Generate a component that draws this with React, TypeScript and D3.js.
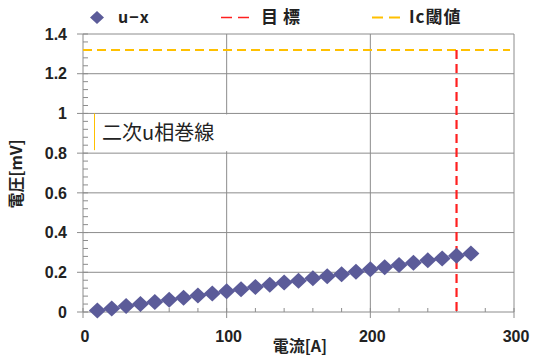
import * as d3 from "d3";

const currents = [10, 20, 30, 40, 50, 60, 70, 80, 90, 100, 110, 120, 130, 140, 150, 160, 170, 180, 190, 200, 210, 220, 230, 240, 250, 260, 270];
const voltages = [0.008, 0.018, 0.03, 0.04, 0.05, 0.062, 0.072, 0.083, 0.093, 0.105, 0.115, 0.126, 0.137, 0.148, 0.158, 0.17, 0.18, 0.19, 0.203, 0.215, 0.225, 0.237, 0.248, 0.26, 0.27, 0.283, 0.294];
const targetCurrent = 260;
const icThreshold = 1.32;
const xTicks = [0, 100, 200, 300];
const yTicks = [0, 0.2, 0.4, 0.6, 0.8, 1, 1.2, 1.4];
const legendLabels = ["u\u2212x", "目標", "Ic閾値"];
const annotation = "二次u相巻線";

const WIDTH = 534;
const HEIGHT = 358;
const MARGIN = { top: 34, right: 20, bottom: 46, left: 83 };

const FONT = "'Noto Sans CJK JP', 'Noto Sans', sans-serif";
const NUM_FONT = "'Liberation Sans', Arial, sans-serif";
const DIAMOND = "#5b5b99";
const RED = "#ff2020";
const YELLOW = "#ffc000";
const GRID = "#8c8c8c";

export default function App() {
  const x = d3.scaleLinear().domain([0, 300]).range([MARGIN.left, WIDTH - MARGIN.right]);
  const y = d3.scaleLinear().domain([0, 1.4]).range([HEIGHT - MARGIN.bottom, MARGIN.top]);

  const minorY = d3.range(0, 1.4001, 0.04);
  const minorX = d3.range(0, 300.1, 20);
  const diamond = (cx: number, cy: number, w = 8.5, h = 8) =>
    `M${cx},${cy - h}L${cx + w},${cy}L${cx},${cy + h}L${cx - w},${cy}Z`;

  const x0 = x(0);
  const x1 = x(300);
  const yb = y(0);
  const yt = y(1.4);

  return (
    <svg
      width={WIDTH}
      height={HEIGHT}
      style={{ position: "absolute", left: 0, top: 0, background: "#fff" }}
      fontFamily={FONT}
    >
      {/* grid */}
      {yTicks.map((t) => (
        <line key={"gy" + t} x1={x0} x2={x1} y1={y(t)} y2={y(t)} stroke={GRID} strokeWidth={1} />
      ))}
      {xTicks.map((t) => (
        <line key={"gx" + t} x1={x(t)} x2={x(t)} y1={yt} y2={yb} stroke={GRID} strokeWidth={1} />
      ))}

      {/* minor ticks */}
      {minorY.map((t) => (
        <line key={"my" + t} x1={x0} x2={x0 + 5} y1={y(t)} y2={y(t)} stroke={GRID} />
      ))}
      {minorX.map((t) => (
        <line key={"mx" + t} x1={x(t)} x2={x(t)} y1={yb} y2={yb - 4} stroke={GRID} />
      ))}
      {yTicks.map((t) => (
        <line key={"ty" + t} x1={x0 - 6} x2={x0} y1={y(t)} y2={y(t)} stroke={GRID} />
      ))}
      {xTicks.map((t) => (
        <line key={"tx" + t} x1={x(t)} x2={x(t)} y1={yb} y2={yb + 6} stroke={GRID} />
      ))}

      {/* annotation box */}
      <rect x={94} y={y(1) + 1} width={186} height={y(0.8) - y(1) - 3} fill="#fff" />
      <line x1={94.5} x2={94.5} y1={y(1)} y2={y(0.8) - 3} stroke={YELLOW} strokeWidth={1} />
      <text x={102} y={140} fontSize={20} fill="#222">
        {annotation}
      </text>

      {/* threshold lines */}
      <line
        x1={x0}
        x2={x1 - 4}
        y1={y(icThreshold)}
        y2={y(icThreshold)}
        stroke={YELLOW}
        strokeWidth={2}
        strokeDasharray="9,5"
      />
      <line
        x1={x(targetCurrent)}
        x2={x(targetCurrent)}
        y1={y(icThreshold)}
        y2={yb}
        stroke={RED}
        strokeWidth={2.2}
        strokeDasharray="9,5"
      />

      {/* series */}
      {currents.map((c, i) => (
        <path key={c} d={diamond(x(c), y(voltages[i]))} fill={DIAMOND} />
      ))}

      {/* tick labels */}
      {yTicks.map((t) => (
        <text
          key={"ly" + t}
          x={x0 - 16}
          y={y(t)}
          dy="0.36em"
          textAnchor="end"
          fontFamily={NUM_FONT}
          fontSize={16}
          fontWeight="bold"
          fill="#222"
        >
          {d3.format("~g")(t)}
        </text>
      ))}
      {xTicks.map((t) => (
        <text
          key={"lx" + t}
          x={x(t) + 2}
          y={yb + 24}
          dy="0.36em"
          textAnchor="middle"
          fontFamily={NUM_FONT}
          fontSize={16}
          fontWeight="bold"
          fill="#222"
        >
          {t}
        </text>
      ))}

      {/* axis titles */}
      <text x={300} y={352} textAnchor="middle" fontSize={16} fontWeight="bold" fill="#222">
        電流[A]
      </text>
      <text
        transform={`translate(22,174) rotate(-90)`}
        textAnchor="middle"
        fontSize={16}
        fontWeight="bold"
        fill="#222"
      >
        電圧[mV]
      </text>

      {/* legend */}
      <path d={diamond(97, 17.5, 7, 6.5)} fill={DIAMOND} />
      <text x={118} y={17.5} dy="0.35em" fontSize={16} fontWeight="bold" fill="#222" letterSpacing={1}>
        {legendLabels[0]}
      </text>
      <line x1={221} x2={255} y1={17.5} y2={17.5} stroke={RED} strokeWidth={1.5} strokeDasharray="11,6" />
      <text x={261} y={17.5} dy="0.35em" fontSize={17} fontWeight="bold" fill="#222" letterSpacing={5}>
        {legendLabels[1]}
      </text>
      <line x1={372} x2={406} y1={17.5} y2={17.5} stroke={YELLOW} strokeWidth={2} strokeDasharray="11,6" />
      <text x={409} y={17.5} dy="0.35em" fontSize={17} fontWeight="bold" fill="#222" letterSpacing={1}>
        {legendLabels[2]}
      </text>
    </svg>
  );
}
